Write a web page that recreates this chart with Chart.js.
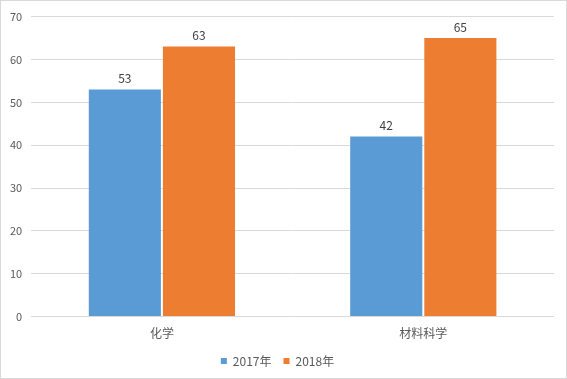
<!DOCTYPE html>
<html><head><meta charset="utf-8">
<script src="https://cdn.jsdelivr.net/npm/chart.js@4/dist/chart.umd.min.js"></script>
<style>
html,body{margin:0;padding:0;background:#fff;}
#wrap{position:absolute;left:0;top:0;width:565px;height:377px;border:1px solid #d9d9d9;}
</style></head><body>
<div id="wrap"><canvas id="c" width="565" height="377"></canvas></div>
<script>
const categories = ["化学", "材料科学"];
const series2017 = [53, 42];
const series2018 = [63, 65];
const seriesNames = ["2017年", "2018年"];
const yTicks = [0, 10, 20, 30, 40, 50, 60, 70];

const FONT = '"Noto Sans CJK SC", "Liberation Sans", sans-serif';
const labelPlugin = {
  id: 'vals',
  afterDatasetsDraw(chart) {
    const ctx = chart.ctx;
    ctx.save();
    ctx.font = '12px ' + FONT;
    ctx.fillStyle = '#404040';
    ctx.textAlign = 'center';
    ctx.textBaseline = 'bottom';
    chart.data.datasets.forEach((ds, i) => {
      chart.getDatasetMeta(i).data.forEach((el, j) => {
        ctx.fillText(String(ds.data[j]), el.x, el.y - 5);
      });
    });
    ctx.restore();
  }
};

new Chart(document.getElementById('c'), {
  type: 'bar',
  data: {
    labels: categories,
    datasets: [
      { label: seriesNames[0], data: series2017, backgroundColor: '#5B9BD5' },
      { label: seriesNames[1], data: series2018, backgroundColor: '#ED7D31' }
    ]
  },
  options: {
    responsive: false,
    animation: false,
    devicePixelRatio: 1,
    layout: { padding: { top: 5, right: 12, left: 0, bottom: 1 } },
    datasets: { bar: { categoryPercentage: 0.567, barPercentage: 0.973 } },
    plugins: {
      legend: {
        position: 'bottom',
        labels: { boxWidth: 6, boxHeight: 6, color: '#595959', font: { family: FONT, size: 12 }, padding: 12 }
      },
      tooltip: { enabled: false }
    },
    scales: {
      x: {
        grid: { display: false },
        border: { display: false },
        ticks: { color: '#595959', font: { family: FONT, size: 12 }, padding: 2 }
      },
      y: {
        min: 0, max: 70,
        afterBuildTicks(axis) { axis.ticks = yTicks.map(v => ({ value: v })); },
        grid: { color: '#d9d9d9', drawTicks: false },
        border: { display: false },
        ticks: { color: '#595959', font: { family: FONT, size: 11 }, padding: 9 }
      }
    }
  },
  plugins: [labelPlugin]
});
</script>
</body></html>
